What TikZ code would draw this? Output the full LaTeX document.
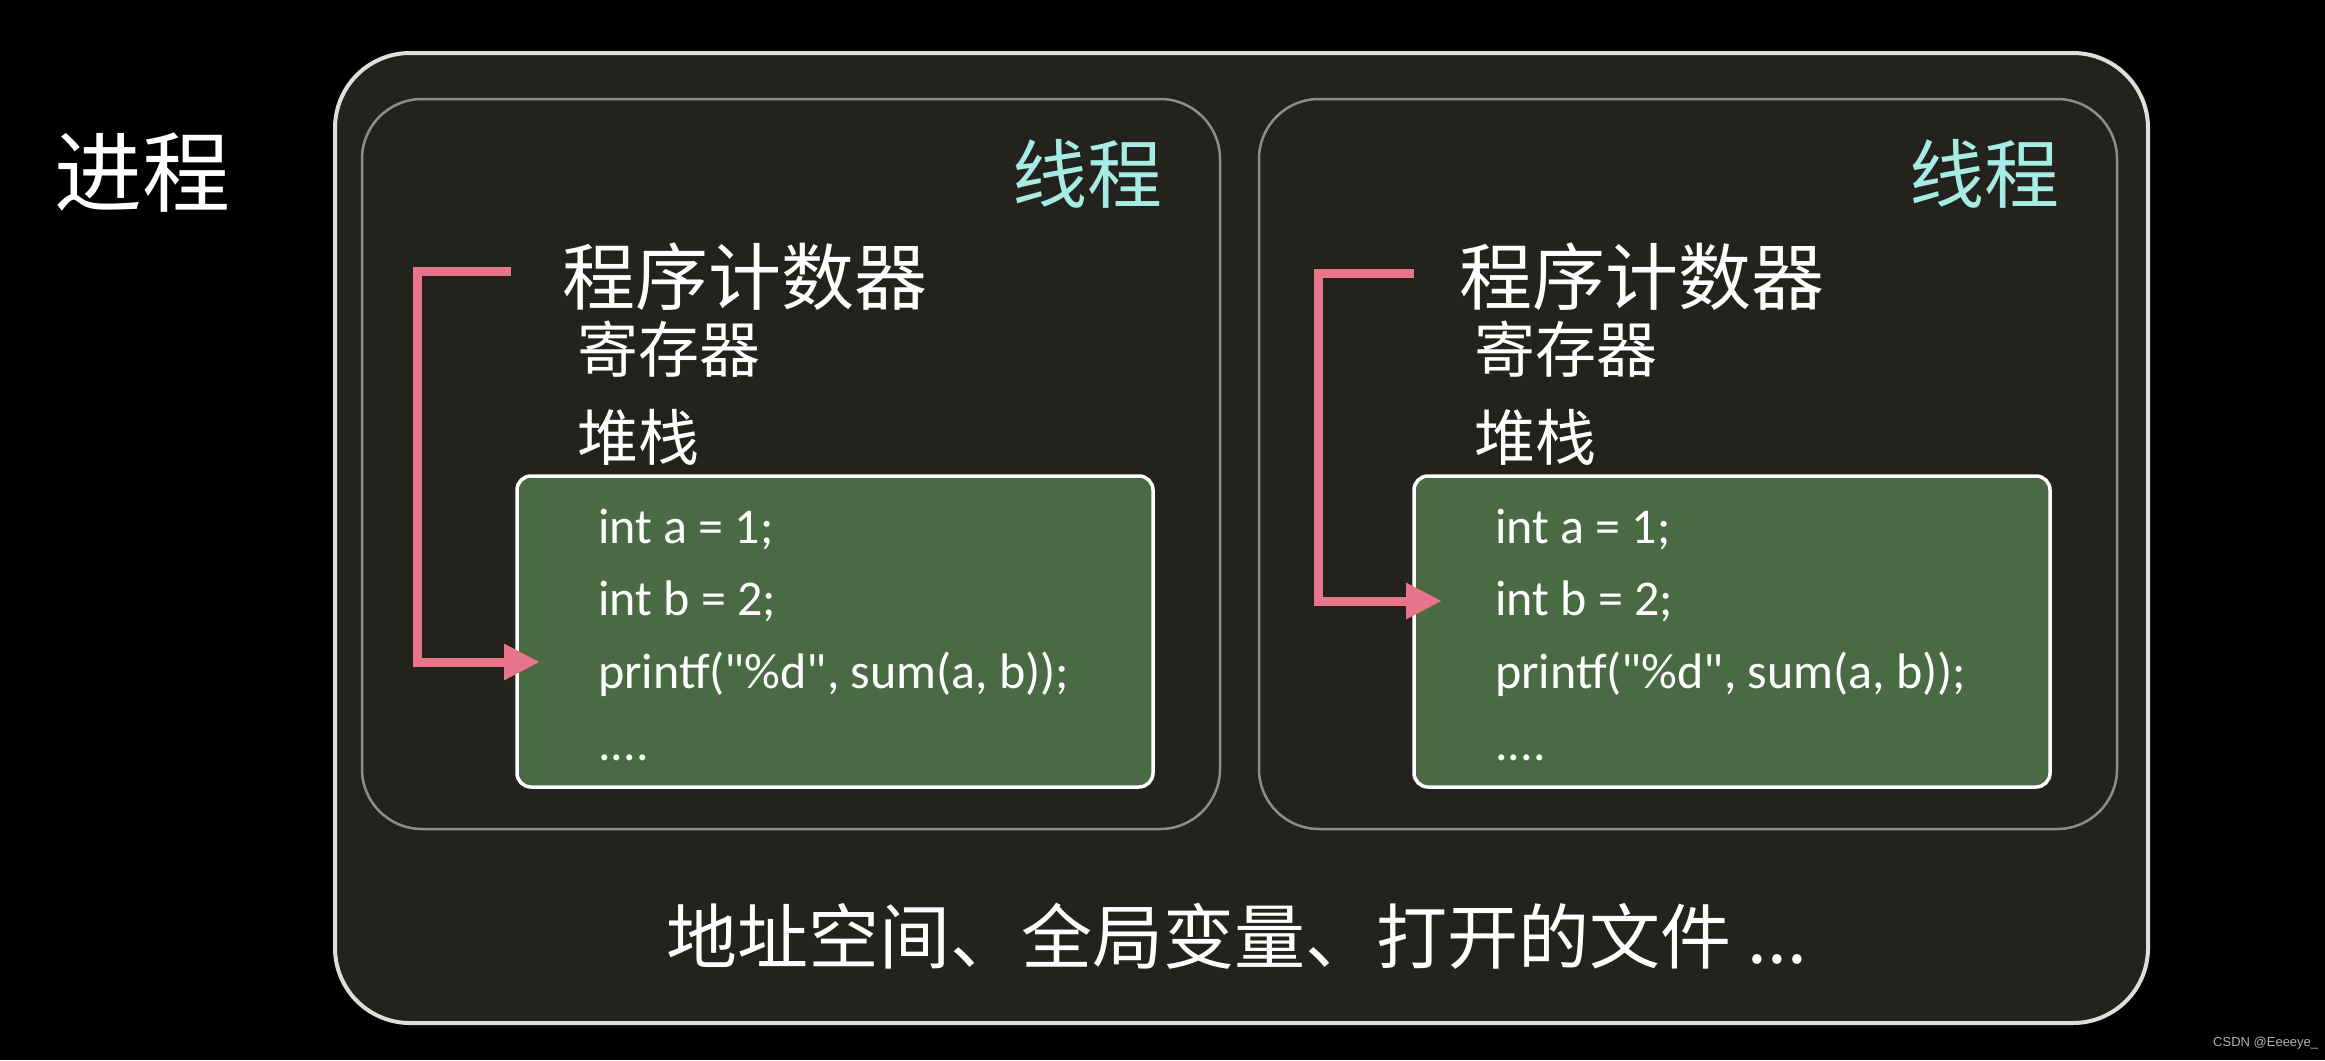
\documentclass[tikz,border=0pt]{standalone}
\usepackage{fontspec}
\setmainfont{Liberation Sans}
\newfontfamily\cjk{Noto Sans CJK SC}
\newfontfamily\codefont{Carlito}
\usetikzlibrary{arrows.meta}
\definecolor{bgdark}{HTML}{24221C}
\definecolor{codegreen}{HTML}{4A6A44}
\definecolor{threadcyan}{HTML}{A6ECE4}
\definecolor{pinkarrow}{HTML}{E8758C}
\definecolor{threadborder}{HTML}{8E8E86}
\definecolor{outerborder}{HTML}{DEDEDA}
\tikzset{
  outerbox/.style={draw=outerborder, line width=4pt, fill=bgdark, rounded corners=75pt},
  threadbox/.style={draw=threadborder, line width=2.5pt, fill=bgdark, rounded corners=60pt},
  codebox/.style={draw=white, line width=3.5pt, fill=codegreen, rounded corners=14pt},
  cjktext/.style={inner sep=0pt, text=white, font=\cjk\fontsize{#1}{#1}\selectfont},
  threadlabel/.style={inner sep=0pt, text=threadcyan, font=\cjk\fontsize{75}{75}\selectfont},
  codeline/.style={inner sep=0pt, anchor=base west, text=white, font=\codefont\fontsize{50}{50}\selectfont},
  pcarrow/.style={draw=pinkarrow, line width=9pt, line join=miter, -{Triangle[length=36pt,width=34pt]}},
}
\begin{document}
\begin{tikzpicture}[x=1pt,y=-1pt]
\useasboundingbox (0,0) rectangle (2325,1060);
\fill[black] (0,0) rectangle (2325,1060);

% process box
\draw[outerbox] (335,53) rectangle (2148,1023);
\node[cjktext=88, anchor=west] (proc) at (54,173) {进程};

% thread boxes
\foreach \dx/\n in {0/1, 897/2} {
  \begin{scope}[xshift=\dx pt]
    \draw[threadbox] (362,99) rectangle (1220,829);
    \node[threadlabel] (thr\n) at (1087,174) {线程};
    \node[cjktext=73, anchor=west] (pc\n) at (562,277) {程序计数器};
    \node[cjktext=61, anchor=west] (reg\n) at (577,349) {寄存器};
    \node[cjktext=61, anchor=west] (stk\n) at (577,437) {堆栈};
    \draw[codebox] (517,476) rectangle (1153,787);
    \node[codeline] (la\n) at (598,543) {int a = 1;};
    \node[codeline] (lb\n) at (598,615) {int b = 2;};
    \node[codeline] (lc\n) at (598,688) {printf("\%d", sum(a, b));};
    \node[codeline] (ld\n) at (598,760) {....};
  \end{scope}
}

% program counter arrows
\coordinate (s1) at (511,271);
\coordinate (t1) at (540,662);
\draw[pcarrow] (s1) -- (417,271) |- (t1);
\coordinate (s2) at (1414,273);
\coordinate (t2) at (1442,601);
\draw[pcarrow] (s2) -- (1318,273) |- (t2);

% shared resources
\node[cjktext=71] (shared) at (1237,936) {地址空间、全局变量、打开的文件 ...};

% watermark
\node[inner sep=0pt, anchor=west, text=black!30!white, font=\fontsize{13}{13}\selectfont] (wm) at (2213,1043) {CSDN @Eeeeye\_};
\end{tikzpicture}
\end{document}
